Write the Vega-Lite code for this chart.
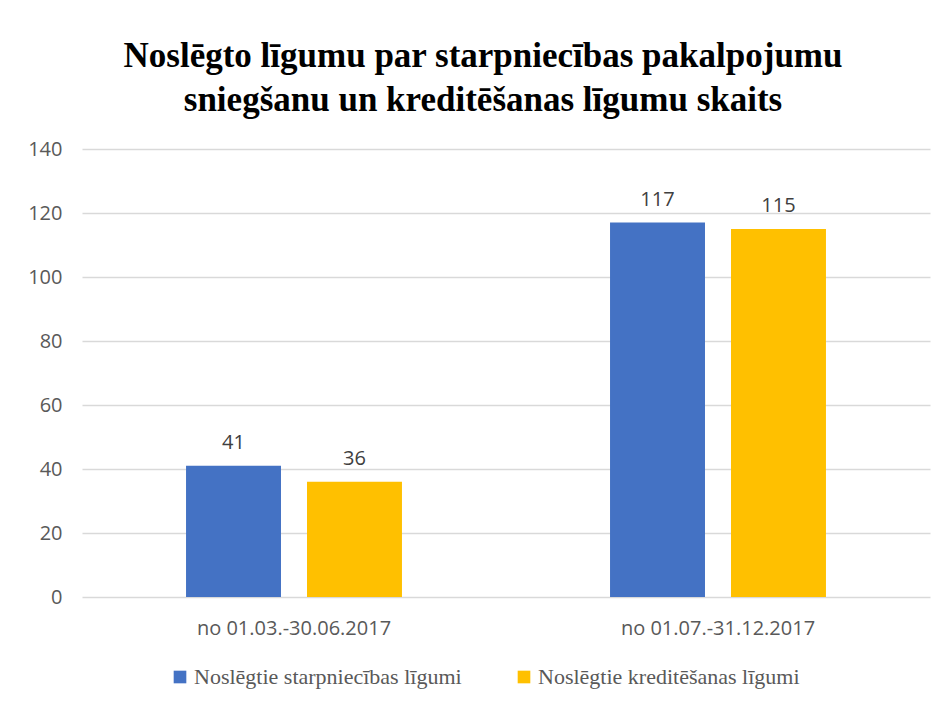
{
  "$schema": "https://vega.github.io/schema/vega-lite/v6.json",
  "width": 848,
  "height": 448,
  "autosize": {"type": "none"},
  "padding": {"left": 82, "top": 149, "right": 14, "bottom": 111},
  "background": "white",
  "title": {
    "text": ["Noslēgto līgumu par starpniecības pakalpojumu", "sniegšanu un kreditēšanas  līgumu skaits"],
    "font": "Liberation Serif",
    "fontSize": 35,
    "fontWeight": "bold",
    "color": "#000000",
    "anchor": "middle",
    "dx": -23,
    "offset": 21,
    "lineHeight": 44
  },
  "data": {
    "values": [
      {"period": "no 01.03.-30.06.2017", "series": "Noslēgtie starpniecības līgumi", "value": 41},
      {"period": "no 01.03.-30.06.2017", "series": "Noslēgtie kreditēšanas līgumi", "value": 36},
      {"period": "no 01.07.-31.12.2017", "series": "Noslēgtie starpniecības līgumi", "value": 117},
      {"period": "no 01.07.-31.12.2017", "series": "Noslēgtie kreditēšanas līgumi", "value": 115}
    ]
  },
  "encoding": {
    "x": {
      "field": "period",
      "type": "nominal",
      "sort": null,
      "scale": {"paddingInner": 0, "paddingOuter": 0},
      "axis": {
        "title": null,
        "labelAngle": 0,
        "labelFont": "Open Sans",
        "labelFontSize": 20,
        "labelColor": "#595959",
        "labelPadding": 21,
        "labelLimit": 400,
        "ticks": false,
        "domain": false,
        "grid": false
      }
    },
    "xOffset": {
      "field": "series",
      "type": "nominal",
      "sort": ["Noslēgtie starpniecības līgumi", "Noslēgtie kreditēšanas līgumi"],
      "scale": {"paddingInner": 0.215, "paddingOuter": 0.86}
    },
    "y": {
      "field": "value",
      "type": "quantitative",
      "scale": {"domain": [0, 140]},
      "axis": {
        "title": null,
        "values": [0, 20, 40, 60, 80, 100, 120, 140],
        "labelFont": "Open Sans",
        "labelFontSize": 20,
        "labelColor": "#595959",
        "labelPadding": 20,
        "ticks": false,
        "domain": false,
        "gridColor": "#D9D9D9",
        "gridWidth": 1.5
      }
    }
  },
  "layer": [
    {
      "mark": {"type": "bar"},
      "encoding": {
        "color": {
          "field": "series",
          "type": "nominal",
          "sort": ["Noslēgtie starpniecības līgumi", "Noslēgtie kreditēšanas līgumi"],
          "scale": {"range": ["#4472C4", "#FFC000"]},
          "legend": {
            "title": null,
            "orient": "none",
            "legendX": 87,
            "legendY": 517,
            "direction": "horizontal",
            "symbolType": "square",
            "symbolSize": 160,
            "symbolStrokeWidth": 0,
            "labelFont": "Liberation Serif",
            "labelFontSize": 22,
            "labelLimit": 500,
            "labelColor": "#595959",
            "columnPadding": 51,
            "labelOffset": 3
          }
        }
      }
    },
    {
      "mark": {"type": "text", "baseline": "bottom", "dy": -13, "font": "Open Sans", "fontSize": 20, "color": "#404040"},
      "encoding": {
        "text": {"field": "value", "type": "quantitative"}
      }
    }
  ],
  "config": {
    "view": {"stroke": null}
  }
}
